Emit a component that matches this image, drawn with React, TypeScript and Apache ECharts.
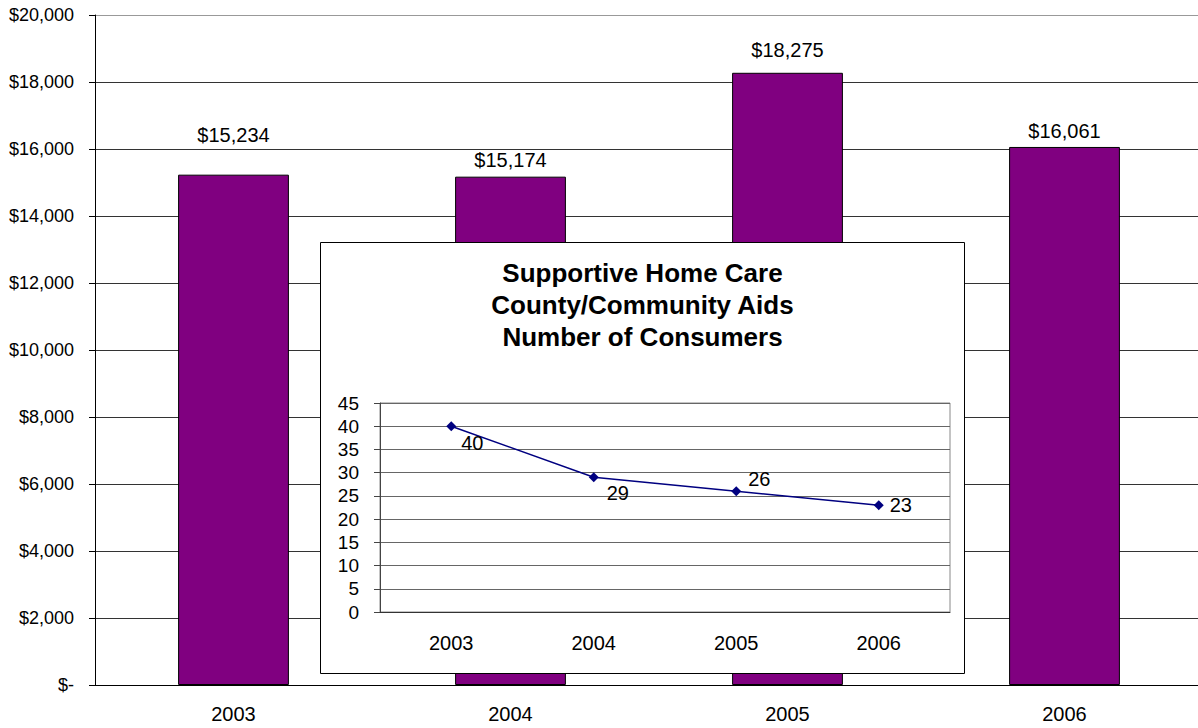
import React, { useEffect, useRef } from 'react';
import * as echarts from 'echarts';

const years = ['2003', '2004', '2005', '2006'];
const spending = [15234, 15174, 18275, 16061];
const consumers = [40, 29, 26, 23];
const spendMin = 0;
const spendMax = 20000;
const spendStep = 2000;
const consumerMin = 0;
const consumerMax = 45;
const consumerStep = 5;
const insetTitle = ['Supportive Home Care', 'County/Community Aids', 'Number of Consumers'];

const FONT = '"Liberation Sans", Arial, Helvetica, sans-serif';

const barLabelOffsets = [[0, -25], [0, -2], [0, -8], [0, -1]];
const lineLabelOffsets = [[0, 17], [3, 16], [2, -12], [1, 0]];

const money = (v: number) => (v === 0 ? '$-' : '$' + v.toLocaleString('en-US'));

export default function App() {
  const mainRef = useRef<HTMLDivElement>(null);
  const insetRef = useRef<HTMLDivElement>(null);

  useEffect(() => {
    const main = echarts.init(mainRef.current!, undefined, { renderer: 'svg' });
    const nLines = Math.round((spendMax - spendMin) / spendStep) + 1;
    const splitColors = Array.from({ length: nLines }, (_, i) => (i === nLines - 1 ? '#999' : '#333'));
    main.setOption({
      animation: false,
      grid: { left: 95, top: 15, width: 1108, height: 670 },
      xAxis: {
        type: 'category',
        data: years,
        axisLine: { lineStyle: { color: '#000', width: 1 } },
        axisTick: { length: 6, lineStyle: { color: '#000' } },
        axisLabel: { color: '#000', fontSize: 20, fontFamily: FONT, margin: 19 },
      },
      yAxis: {
        type: 'value',
        min: spendMin,
        max: spendMax,
        interval: spendStep,
        axisLine: { show: true, lineStyle: { color: '#000', width: 1 } },
        axisTick: { show: true, length: 6, lineStyle: { color: '#000' } },
        axisLabel: { color: '#000', fontSize: 18, fontFamily: FONT, margin: 21, formatter: (v: number) => money(v) },
        splitLine: { lineStyle: { color: splitColors, width: 1 } },
      },
      series: [
        {
          type: 'bar',
          data: spending.map((v, i) => ({ value: v, label: { offset: barLabelOffsets[i] } })),
          barWidth: '40%',
          itemStyle: { color: '#800080', borderColor: '#000', borderWidth: 1 },
          label: {
            show: true,
            position: 'top',
            distance: 5,
            color: '#000',
            fontSize: 20,
            fontFamily: FONT,
            formatter: (p: any) => money(p.value),
          },
        },
      ],
    });

    const inset = echarts.init(insetRef.current!, undefined, { renderer: 'svg' });
    inset.setOption({
      animation: false,
      title: {
        text: insetTitle.join('\n'),
        left: 'center',
        top: 10,
        textStyle: { fontSize: 26, fontWeight: 'bold', fontFamily: FONT, color: '#000', lineHeight: 32 },
      },
      graphic: [
        {
          type: 'rect',
          shape: { x: 0.5, y: 0.5, width: 644, height: 431 },
          style: { fill: null, stroke: '#000', lineWidth: 1 },
          silent: true,
        },
      ],
      grid: { left: 60, top: 161, width: 570, height: 209, show: true, borderColor: '#888', borderWidth: 1, backgroundColor: 'transparent' },
      xAxis: {
        type: 'category',
        data: years,
        axisLine: { lineStyle: { color: '#333', width: 1 } },
        axisTick: { length: 6, lineStyle: { color: '#333' } },
        axisLabel: { color: '#000', fontSize: 20, fontFamily: FONT, margin: 21 },
      },
      yAxis: {
        type: 'value',
        min: consumerMin,
        max: consumerMax,
        interval: consumerStep,
        axisLine: { show: true, lineStyle: { color: '#444', width: 1 } },
        axisTick: { show: true, length: 6, lineStyle: { color: '#444' } },
        axisLabel: { color: '#000', fontSize: 19, fontFamily: FONT, margin: 21 },
        splitLine: { lineStyle: { color: '#666', width: 1 } },
      },
      series: [
        {
          type: 'line',
          data: consumers.map((v, i) => ({ value: v, label: { offset: lineLabelOffsets[i] } })),
          symbol: 'diamond',
          symbolSize: 10,
          lineStyle: { color: '#000080', width: 1.5 },
          itemStyle: { color: '#000080' },
          label: { show: true, position: 'right', distance: 5, color: '#000', fontSize: 20, fontFamily: FONT },
        },
      ],
    });

    return () => {
      main.dispose();
      inset.dispose();
    };
  }, []);

  return (
    <div style={{ position: 'absolute', left: 0, top: 0, width: 1198, height: 728, overflow: 'hidden', background: '#fff' }}>
      <div ref={mainRef} style={{ position: 'absolute', left: 0, top: 0, width: 1210, height: 728 }} />
      <div ref={insetRef} style={{ position: 'absolute', left: 320, top: 242, width: 645, height: 432, background: '#fff' }} />
    </div>
  );
}
